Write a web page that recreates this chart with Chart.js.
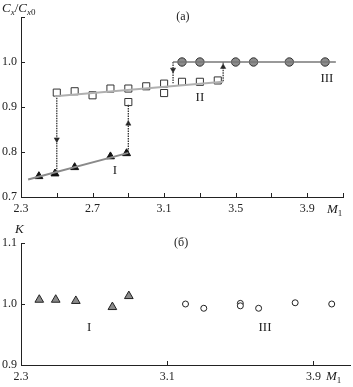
<!DOCTYPE html>
<html>
<head>
<meta charset="utf-8">
<script src="https://cdn.jsdelivr.net/npm/chart.js@4"></script>
<style>
  html, body { margin: 0; padding: 0; background: #fff; overflow: hidden; width: 353px; height: 387px; }
  .box { position: absolute; left: 0; width: 356px; }
  #topBox { top: 0; height: 220px; }
  #botBox { top: 220px; height: 167px; }
</style>
</head>
<body>
<div class="box" id="topBox"><canvas id="topChart" width="356" height="220"></canvas></div>
<div class="box" id="botBox"><canvas id="botChart" width="356" height="167"></canvas></div>
<script>
// (a) Cx/Cx0 vs M1
const topX_I = [2.4, 2.49, 2.6, 2.8, 2.89];
const topY_I = [0.746, 0.752, 0.766, 0.79, 0.797];
const topX_II = [2.5, 2.6, 2.7, 2.8, 2.9, 2.9, 3.0, 3.1, 3.1, 3.2, 3.3, 3.4];
const topY_II = [0.932, 0.935, 0.926, 0.941, 0.941, 0.911, 0.946, 0.952, 0.931, 0.956, 0.956, 0.959];
const topX_III = [3.2, 3.3, 3.5, 3.6, 3.8, 4.0];
const topY_III = [1.0, 1.0, 1.0, 1.0, 1.0, 1.0];

// fit lines
const fitX_I = [2.34, 2.9];
const fitY_I = [0.739, 0.798];
const fitX_II = [2.49, 3.43];
const fitY_II = [0.924, 0.956];
const fitX_III = [3.15, 4.06];
const fitY_III = [1.0, 1.0];

// transitions (dotted arrows)
const arrowX = [2.5, 2.9, 3.15, 3.43];
const arrowFrom = [0.926, 0.8, 1.0, 0.957];
const arrowTo = [0.756, 0.906, 0.953, 1.0];
const arrowHead = [0.828, 0.863, 0.983, 0.989];

const topXTicks = [2.3, 2.5, 2.7, 2.9, 3.1, 3.3, 3.5, 3.7, 3.9, 4.1];
const topXLabels = ['2.3', '', '2.7', '', '3.1', '', '3.5', '', '3.9', ''];
const topYTicks = [0.7, 0.8, 0.9, 1.0, 1.1];
const topYLabels = ['0.7', '0.8', '0.9', '1.0', ''];

// (б) K vs M1
const botX_I = [2.4, 2.49, 2.6, 2.8, 2.89];
const botY_I = [1.007, 1.007, 1.005, 0.995, 1.013];
const botX_III = [3.2, 3.3, 3.5, 3.5, 3.6, 3.8, 4.0];
const botY_III = [1.0, 0.993, 1.001, 0.997, 0.993, 1.002, 1.0];

const botXTicks = [2.3, 3.1, 3.9];
const botXLabels = ['2.3', '3.1', '3.9'];
const botYTicks = [0.9, 1.0, 1.1];
const botYLabels = ['0.9', '1.0', '1.1'];

const SERIF = '"Liberation Serif", "DejaVu Serif", serif';
const INK = '#222';

function pts(xs, ys) {
    return xs.map((x, i) => ({ x: x, y: ys[i] }));
}

// short tick marks pointing into the plot
const innerTicks = {
    id: 'innerTicks',
    afterDraw(chart) {
        const ctx = chart.ctx, a = chart.chartArea;
        ctx.save();
        ctx.strokeStyle = INK;
        ctx.lineWidth = 1;
        ctx.beginPath();
        chart.scales.x.ticks.forEach(t => {
            const p = Math.round(chart.scales.x.getPixelForValue(t.value)) + 0.5;
            ctx.moveTo(p, a.bottom);
            ctx.lineTo(p, a.bottom - 4);
        });
        chart.scales.y.ticks.forEach(t => {
            const p = Math.round(chart.scales.y.getPixelForValue(t.value)) + 0.5;
            ctx.moveTo(a.left, p);
            ctx.lineTo(a.left + 4, p);
        });
        ctx.stroke();
        ctx.restore();
    }
};

// text placed in data coordinates
const dataText = {
    id: 'dataText',
    afterDatasetsDraw(chart, args, opts) {
        const ctx = chart.ctx;
        ctx.save();
        ctx.fillStyle = INK;
        ctx.textAlign = 'center';
        ctx.textBaseline = 'middle';
        (opts.items || []).forEach(t => {
            ctx.font = (t.size || 13) + 'px ' + SERIF;
            ctx.fillText(t.text, chart.scales.x.getPixelForValue(t.x), chart.scales.y.getPixelForValue(t.y));
        });
        // axis titles made of runs: [text, italic, sub]
        (opts.titles || []).forEach(t => {
            let x = t.px;
            ctx.textAlign = 'left';
            ctx.textBaseline = 'alphabetic';
            t.runs.forEach(r => {
                const size = r[2] ? 9 : 13;
                ctx.font = (r[1] ? 'italic ' : '') + size + 'px ' + SERIF;
                ctx.fillText(r[0], x, t.py + (r[2] ? 3 : 0));
                x += ctx.measureText(r[0]).width;
            });
        });
        ctx.restore();
    }
};

function axes(xmin, xmax, xticks, xlabels, ymin, ymax, yticks, ylabels, xh, yw) {
    const font = { family: SERIF, size: 12 };
    return {
        x: {
            type: 'linear', min: xmin, max: xmax,
            afterBuildTicks: s => { s.ticks = xticks.map(v => ({ value: v })); },
            afterFit: s => { s.height = xh; },
            ticks: { callback: (v, i) => xlabels[i], font: font, color: INK, padding: 5, maxRotation: 0, autoSkip: false },
            grid: { drawOnChartArea: false, drawTicks: false },
            border: { color: INK, width: 1 }
        },
        y: {
            type: 'linear', min: ymin, max: ymax,
            afterBuildTicks: s => { s.ticks = yticks.map(v => ({ value: v })); },
            afterFit: s => { s.width = yw; },
            ticks: { callback: (v, i) => ylabels[i], font: font, color: INK, padding: 4, autoSkip: false },
            grid: { drawOnChartArea: false, drawTicks: false },
            border: { color: INK, width: 1 }
        }
    };
}

const arrowLines = arrowX.map((x, i) => ({
    data: [{ x: x, y: arrowFrom[i] }, { x: x, y: arrowTo[i] }],
    showLine: true, borderColor: '#333', borderWidth: 1.3, borderDash: [1.5, 1],
    pointRadius: 0, clip: false
}));
const arrowHeads = {
    data: pts(arrowX, arrowHead),
    pointStyle: 'triangle', pointRadius: 3,
    pointRotation: arrowX.map((x, i) => arrowTo[i] < arrowFrom[i] ? 180 : 0),
    backgroundColor: '#222', borderColor: '#222', borderWidth: 0.5, showLine: false
};

new Chart(document.getElementById('topChart'), {
    type: 'scatter',
    data: {
        datasets: [
            { data: pts(fitX_I, fitY_I), showLine: true, borderColor: '#8a8a8a', borderWidth: 2, pointRadius: 0 },
            { data: pts(fitX_II, fitY_II), showLine: true, borderColor: '#b0b0b0', borderWidth: 2, pointRadius: 0 },
            { data: pts(fitX_III, fitY_III), showLine: true, borderColor: '#777', borderWidth: 1.5, pointRadius: 0, clip: false },
            ...arrowLines,
            arrowHeads,
            { data: pts(topX_I, topY_I), pointStyle: 'triangle', pointRadius: 4.6, backgroundColor: '#111', borderColor: '#111', borderWidth: 1 },
            { data: pts(topX_II, topY_II), pointStyle: 'rect', pointRadius: 5, backgroundColor: '#fff', borderColor: '#333', borderWidth: 1 },
            { data: pts(topX_III, topY_III), pointStyle: 'circle', pointRadius: 4.2, backgroundColor: '#8c8c8c', borderColor: '#333', borderWidth: 1, clip: false }
        ]
    },
    options: {
        responsive: false, animation: false,
        layout: { padding: { left: 0, right: 13, top: 17, bottom: 0 } },
        scales: axes(2.3, 4.1, topXTicks, topXLabels, 0.7, 1.1, topYTicks, topYLabels, 23, 21),
        plugins: {
            legend: { display: false }, tooltip: { enabled: false },
            dataText: {
                items: [
                    { text: 'I', x: 2.825, y: 0.759 },
                    { text: 'II', x: 3.3, y: 0.922 },
                    { text: 'III', x: 4.01, y: 0.964 },
                    { text: '(a)', x: 3.205, y: 1.1, size: 12 }
                ],
                titles: [
                    { px: 2, py: 12, runs: [['C', true, false], ['x', true, true], ['/', false, false], ['C', true, false], ['x', true, true], ['0', false, true]] },
                    { px: 327, py: 213, runs: [['M', true, false], ['1', false, true]] }
                ]
            }
        }
    },
    plugins: [dataText, innerTicks]
});

new Chart(document.getElementById('botChart'), {
    type: 'scatter',
    data: {
        datasets: [
            { data: pts(botX_I, botY_I), pointStyle: 'triangle', pointRadius: 5, backgroundColor: '#8a8a8a', borderColor: '#222', borderWidth: 1 },
            { data: pts(botX_III, botY_III), pointStyle: 'circle', pointRadius: 3, backgroundColor: '#fff', borderColor: '#222', borderWidth: 1 }
        ]
    },
    options: {
        responsive: false, animation: false,
        layout: { padding: { left: 0, right: 2, top: 23, bottom: 0 } },
        scales: axes(2.3, 4.1, botXTicks, botXLabels, 0.9, 1.1, botYTicks, botYLabels, 22, 21),
        plugins: {
            legend: { display: false }, tooltip: { enabled: false },
            dataText: {
                items: [
                    { text: 'I', x: 2.673, y: 0.961 },
                    { text: 'III', x: 3.635, y: 0.961 },
                    { text: '(б)', x: 3.176, y: 1.101, size: 12 }
                ],
                titles: [
                    { px: 15, py: 13, runs: [['K', true, false]] },
                    { px: 326, py: 160, runs: [['M', true, false], ['1', false, true]] }
                ]
            }
        }
    },
    plugins: [dataText, innerTicks]
});
</script>
</body>
</html>
